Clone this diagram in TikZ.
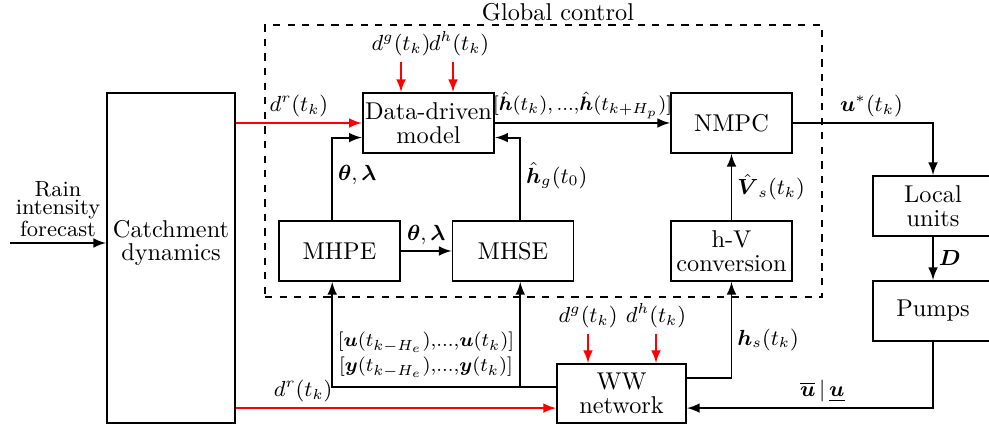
\documentclass[tikz,border=0pt]{standalone}
\usepackage{amsmath}
\usepackage{tikz}

\begin{document}
\begin{tikzpicture}[thick, x=0.4115pt, y=-0.4115pt, >=latex]
  \tikzset{box/.style={draw, rectangle, align=center, inner sep=1pt,
      minimum width=49.8pt, minimum height=24.7pt,
      execute at begin node={\setlength{\baselineskip}{10pt}}}}
  \tikzset{lbl/.style={font=\small, inner sep=2pt, text=black}}
  \tikzset{seq/.style={font=\footnotesize, inner sep=1.5pt, text=black}}
  \tikzset{dist/.style={draw=red, ->}}

  \clip (0, 0) rectangle (989, 430);

  % Blocks
  \node [box, minimum width=52.7pt, minimum height=135.8pt] (catch) at (171, 258) {};
  \node [align=center, execute at begin node={\setlength{\baselineskip}{9.5pt}}] (catchtxt) at (171, 243) {Catchment\\dynamics};

  \node [draw, dashed, minimum width=229.2pt, minimum height=111.9pt] (global) at (543.5, 161) {};
  \node (globtxt) at (558, 12) {Global control};

  \node [box, minimum width=53.9pt] (data) at (428.5, 123) {Data-driven\\model};
  \node [box] (nmpc) at (731.5, 123) {NMPC};
  \node [box] (mhpe) at (339.5, 251) {MHPE};
  \node [box] (mhse) at (513, 251) {MHSE};
  \node [box] (hv) at (731.5, 251) {h-V\\conversion};
  \node [box, minimum width=49.4pt] (local) at (933, 206) {Local\\units};
  \node [box, minimum width=49.4pt] (pumps) at (933, 311) {Pumps};
  \node [box, minimum width=53.1pt, minimum height=24.3pt] (ww) at (621.5, 393.5) {WW\\network};

  \coordinate (rain) at (10, 243);
  \coordinate (dg1) at (401, 62);
  \coordinate (dh1) at (453, 62);
  \coordinate (dg2) at (588, 334);
  \coordinate (dh2) at (656, 334);
  \coordinate (wwin) at ([yshift=-6pt]ww.west);
  \coordinate (wwback) at ([yshift=-6pt]ww.east);
  \coordinate (wwout) at ([yshift=2.7pt]ww.west);
  \coordinate (wwhs) at ([yshift=6.4pt]ww.east);
  \coordinate (mhpein) at ([xshift=-3pt]mhpe.south);
  \coordinate (mhsein) at ([xshift=3pt]mhse.south);
  \coordinate (mhpeout) at ([xshift=-3pt]mhpe.north);
  \coordinate (mhseout) at ([xshift=3pt]mhse.north);

  % Edges
  \draw [->] (rain) -- (rain -| catch.west)
    node [midway, above, lbl, align=center, execute at begin node={\setlength{\baselineskip}{7.4pt}}] {Rain\\intensity\\forecast};

  \draw [dist] (catch.east |- data.west) -- (data.west) node [midway, above, lbl] {$d^r(t_k)$};
  \draw [dist] (catch.east |- wwin) -- (wwin) node [pos=0.21, above, lbl] {$d^r(t_k)$};

  \draw [dist] (dg1) node [above, lbl] {$d^g(t_k)$} -- (dg1 |- data.north);
  \draw [dist] (dh1) node [above, lbl, xshift=2.5pt] {$d^h(t_k)$} -- (dh1 |- data.north);
  \draw [dist] (dg2) node [above, lbl] {$d^g(t_k)$} -- (dg2 |- ww.north);
  \draw [dist] (dh2) node [above, lbl] {$d^h(t_k)$} -- (dh2 |- ww.north);

  \draw [->] (data) -- (nmpc)
    node [midway, above, seq] {$[\hat{\boldsymbol h}(t_k){,}\,...{,}\hat{\boldsymbol h}(t_{k+H_p})]$};
  \draw [->] (nmpc.east) -| (local.north) node [pos=0.28, above, lbl] {$\boldsymbol u^*(t_k)$};
  \draw [->] (local) -- (pumps) node [midway, right, lbl] {$\boldsymbol D$};
  \draw [->] (pumps.south) |- (wwback)
    node [pos=0.725, above, lbl] {$\overline{\boldsymbol u}\,|\,\underline{\boldsymbol u}$};

  \draw [->] (wwout) -| (mhpein);
  \draw [->] (wwout -| mhsein) -- (mhsein);
  \node [seq, align=center, execute at begin node={\setlength{\baselineskip}{10.3pt}}] (histlbl) at (426, 355)
    {$[\boldsymbol u(t_{k-H_e}){,}...{,}\boldsymbol u(t_k)]$\\$[\boldsymbol y(t_{k-H_e}){,}...{,}\boldsymbol y(t_k)]$};
  \draw [->] (wwhs) -| (hv.south) node [pos=0.7, right, lbl] {$\boldsymbol h_s(t_k)$};

  \draw [->] (hv) -- (nmpc) node [midway, right, lbl] {${\hat{\boldsymbol V}}_s(t_k)$};
  \draw [->] (mhpeout) |- ([yshift=-6pt]data.west) node [pos=0.27, right, lbl] {$\boldsymbol\theta, \boldsymbol\lambda$};
  \draw [->] (mhseout) |- ([yshift=-6pt]data.east) node [pos=0.27, right, lbl] {$\hat{\boldsymbol h}_g(t_0)$};
  \draw [->] (mhpe) -- (mhse) node [midway, above, lbl] {$\boldsymbol\theta, \boldsymbol\lambda$};

\end{tikzpicture}
\end{document}
